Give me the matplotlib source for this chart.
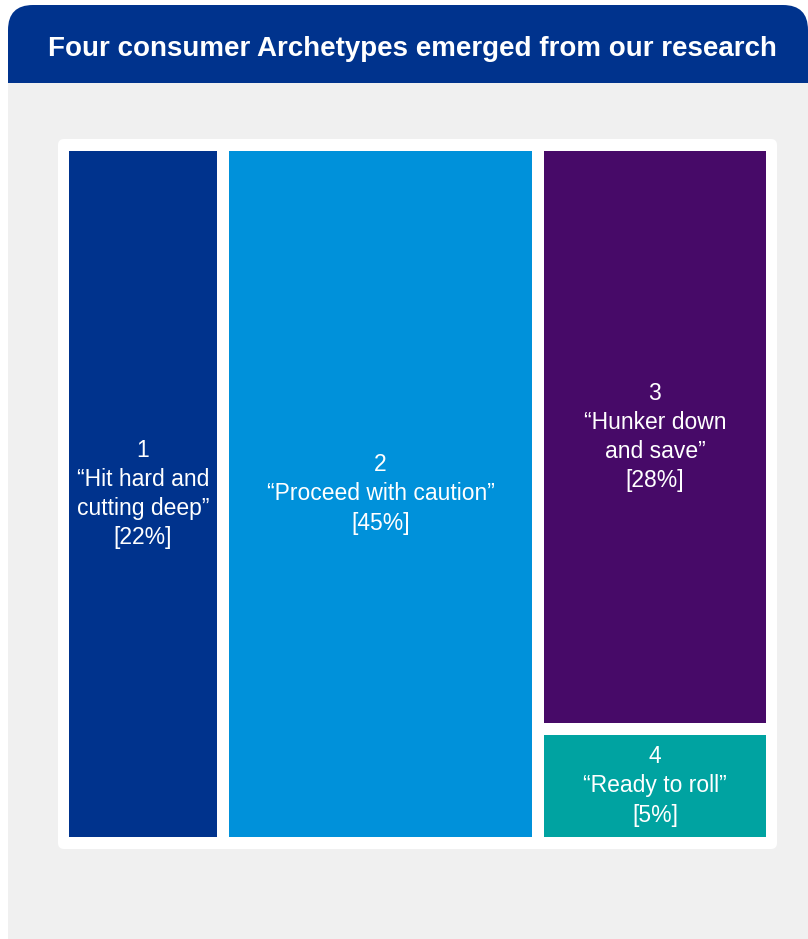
import matplotlib
matplotlib.use("Agg")
import matplotlib.pyplot as plt
from matplotlib.patches import Rectangle, FancyBboxPatch

plt.rcParams['font.family'] = ['Liberation Sans', 'DejaVu Sans']

# ----------------- Data -----------------
title = "Four consumer Archetypes emerged from our research"
numbers = ["1", "2", "3", "4"]
names = ["\u201cHit hard and\ncutting deep\u201d", "\u201cProceed with caution\u201d",
         "\u201cHunker down\nand save\u201d", "\u201cReady to roll\u201d"]
shares = [22, 45, 28, 5]
# which treemap column each archetype sits in
columns = [0, 1, 2, 2]
colors = ["#00338D", "#0091DA", "#470A68", "#00A3A1"]

W, H = 808, 939
fig = plt.figure(figsize=(W / 100, H / 100), dpi=100)
ax = fig.add_axes([0, 0, 1, 1])
ax.set_xlim(0, W)
ax.set_ylim(H, 0)
ax.axis('off')

# ----------------- Frame -----------------
ax.add_patch(Rectangle((8, 83), 800, 856, color="#F0F0F0", lw=0))
r = 25
ax.add_patch(FancyBboxPatch((8 + r, 5 + r), 800 - 2 * r, 78 - 2 * r,
                            boxstyle=f"round,pad={r}", color="#00338D", lw=0))
ax.add_patch(Rectangle((8, 50), 800, 33, color="#00338D", lw=0))
ax.text(412, 49, title, color="white", fontsize=20, fontweight="bold",
        ha="center", va="center")

# white panel behind the treemap
ax.add_patch(FancyBboxPatch((58 + 6, 139 + 6), 719 - 12, 710 - 12,
                            boxstyle="round,pad=6", color="white", lw=0))

# ----------------- Treemap -----------------
x0, y0 = 69, 151
gap = 12
inner_w = 697 - 2 * gap
inner_h = 686

ncols = max(columns) + 1
col_tot = [sum(s for s, c in zip(shares, columns) if c == k) for k in range(ncols)]
total = sum(col_tot)

x = x0
for k in range(ncols):
    cw = inner_w * col_tot[k] / total
    idx = [i for i, c in enumerate(columns) if c == k]
    n = len(idx)
    avail_h = inner_h - gap * (n - 1)
    y = y0
    for i in idx:
        rh = avail_h * shares[i] / col_tot[k]
        ax.add_patch(Rectangle((x, y), cw, rh, color=colors[i], lw=0))
        label = f"{numbers[i]}\n{names[i]}\n[{shares[i]}%]"
        ax.text(x + cw / 2, y + rh / 2, label, color="white", fontsize=16.5,
                ha="center", va="center", linespacing=1.34)
        y += rh + gap
    x += cw + gap

fig.savefig("out.png", dpi=100, facecolor="white")
